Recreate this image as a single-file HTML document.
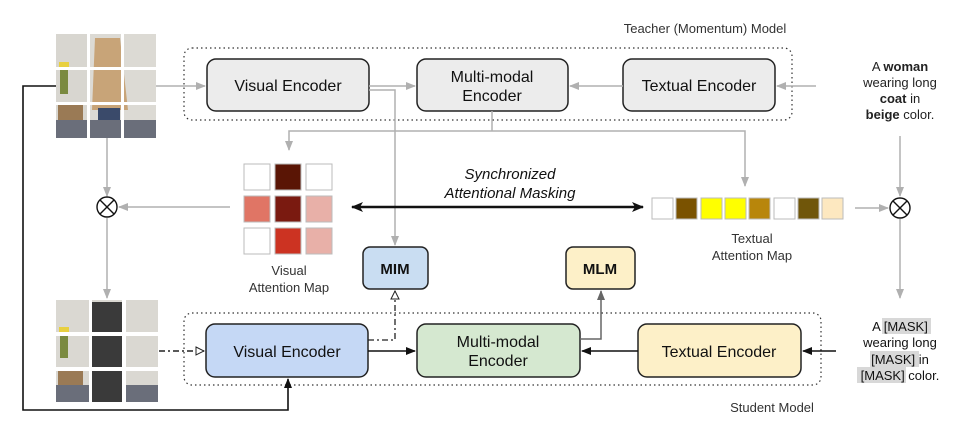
<!DOCTYPE html>
<html><head><meta charset="utf-8"><style>
body{margin:0;background:#fff;}
svg{display:block;font-family:"Liberation Sans","DejaVu Sans",sans-serif;}
</style></head><body>
<svg width="960" height="431" viewBox="0 0 960 431" xmlns="http://www.w3.org/2000/svg">
<defs>
<marker id="ga" markerWidth="10" markerHeight="10" refX="9" refY="5" orient="auto" markerUnits="userSpaceOnUse"><path d="M0,1 L10,5 L0,9 Z" fill="#b0b0b0"/></marker>
<marker id="ba" markerWidth="10" markerHeight="10" refX="9" refY="5" orient="auto" markerUnits="userSpaceOnUse"><path d="M0,1 L10,5 L0,9 Z" fill="#111"/></marker>
<marker id="da" markerWidth="10" markerHeight="10" refX="9" refY="5" orient="auto" markerUnits="userSpaceOnUse"><path d="M0,1 L10,5 L0,9 Z" fill="#666"/></marker>
<marker id="ha" markerWidth="10" markerHeight="10" refX="9" refY="5" orient="auto" markerUnits="userSpaceOnUse"><path d="M1,1 L9,5 L1,9 Z" fill="#fff" stroke="#222" stroke-width="1"/></marker>
<marker id="bb" markerWidth="12" markerHeight="12" refX="11" refY="6" orient="auto-start-reverse" markerUnits="userSpaceOnUse"><path d="M0,1 L12,6 L0,11 L3,6 Z" fill="#111"/></marker>
</defs>

<!-- top image -->
<g>
<rect x="56" y="34" width="100" height="104" fill="#dcdad4"/>
<rect x="56" y="34" width="32" height="104" fill="#d8d6d0"/>
<rect x="58" y="105" width="25" height="33" fill="#9a7a55"/>
<rect x="60" y="64" width="8" height="30" fill="#7a8a40"/>
<rect x="59" y="62" width="10" height="6" fill="#e8d040"/>
<path d="M95,38 L120,38 L128,110 L92,110 Z" fill="#c8a478"/>
<rect x="98" y="108" width="22" height="12" fill="#3a4a6a"/>
<rect x="56" y="120" width="100" height="18" fill="#6a6e7a"/>
<rect x="87" y="34" width="3" height="104" fill="#fff"/><rect x="121" y="34" width="3" height="104" fill="#fff"/>
<rect x="56" y="67" width="100" height="3" fill="#fff"/><rect x="56" y="102" width="100" height="3" fill="#fff"/>
</g>

<!-- masked image -->
<g>
<rect x="56" y="300" width="102" height="102" fill="#dad8d2"/>
<rect x="58" y="370" width="25" height="32" fill="#9a7a55"/>
<rect x="60" y="330" width="8" height="28" fill="#7a8a40"/>
<rect x="59" y="327" width="10" height="6" fill="#e8d040"/>
<rect x="56" y="385" width="102" height="17" fill="#6a6e7a"/>
<rect x="92" y="302" width="30" height="30" fill="#3a3a3a"/>
<rect x="92" y="336" width="30" height="31" fill="#3a3a3a"/>
<rect x="92" y="371" width="30" height="31" fill="#3a3a3a"/>
<rect x="89" y="300" width="3" height="102" fill="#fff"/><rect x="122" y="300" width="4" height="102" fill="#fff"/>
<rect x="56" y="332" width="102" height="4" fill="#fff"/><rect x="56" y="367" width="102" height="4" fill="#fff"/>
</g>

<!-- dotted boxes -->
<rect x="184" y="48" width="608" height="72" rx="8" fill="none" stroke="#333" stroke-width="1.2" stroke-dasharray="1.5,3"/>
<rect x="184" y="313" width="637" height="72" rx="8" fill="none" stroke="#333" stroke-width="1.2" stroke-dasharray="1.5,3"/>
<text x="705" y="33" font-size="13" fill="#333" text-anchor="middle">Teacher (Momentum) Model</text>
<text x="772" y="412" font-size="13" fill="#333" text-anchor="middle">Student Model</text>

<!-- teacher boxes -->
<rect x="207" y="59" width="162" height="52" rx="9" fill="#ececec" stroke="#222" stroke-width="1.5"/>
<text x="288" y="91" font-size="16" text-anchor="middle" fill="#111">Visual Encoder</text>
<rect x="417" y="59" width="151" height="52" rx="9" fill="#ececec" stroke="#222" stroke-width="1.5"/>
<text x="492" y="82" font-size="16" text-anchor="middle" fill="#111">Multi-modal</text>
<text x="492" y="101" font-size="16" text-anchor="middle" fill="#111">Encoder</text>
<rect x="623" y="59" width="152" height="52" rx="9" fill="#ececec" stroke="#222" stroke-width="1.5"/>
<text x="699" y="91" font-size="16" text-anchor="middle" fill="#111">Textual Encoder</text>

<!-- teacher arrows -->
<g stroke="#b0b0b0" stroke-width="1.5" fill="none">
<line x1="156" y1="86" x2="205" y2="86" marker-end="url(#ga)"/>
<line x1="369" y1="86" x2="415" y2="86" marker-end="url(#ga)"/>
<line x1="623" y1="86" x2="570" y2="86" marker-end="url(#ga)"/>
<line x1="816" y1="86" x2="777" y2="86" marker-end="url(#ga)"/>
<polyline points="369,90 395,90 395,245" marker-end="url(#ga)"/>
<line x1="492" y1="111" x2="492" y2="131"/>
<polyline points="492,131 289,131 289,150" marker-end="url(#ga)"/>
<polyline points="492,131 745,131 745,186" marker-end="url(#ga)"/>
<line x1="107" y1="138" x2="107" y2="196" marker-end="url(#ga)"/>
<line x1="230" y1="207" x2="119" y2="207" marker-end="url(#ga)"/>
<line x1="107" y1="218" x2="107" y2="298" marker-end="url(#ga)"/>
<line x1="855" y1="208" x2="888" y2="208" marker-end="url(#ga)"/>
<line x1="900" y1="136" x2="900" y2="196" marker-end="url(#ga)"/>
<line x1="900" y1="219" x2="900" y2="298" marker-end="url(#ga)"/>
</g>

<!-- otimes -->
<g stroke="#111" stroke-width="1.4" fill="#fff">
<circle cx="107" cy="207" r="10"/><line x1="100" y1="200" x2="114" y2="214"/><line x1="114" y1="200" x2="100" y2="214"/>
<circle cx="900" cy="208" r="10"/><line x1="893" y1="201" x2="907" y2="215"/><line x1="907" y1="201" x2="893" y2="215"/>
</g>

<!-- visual attention map -->
<g stroke="#bbb" stroke-width="1">
<rect x="244" y="164" width="26" height="26" fill="#fff"/>
<rect x="275" y="164" width="26" height="26" fill="#5a1505"/>
<rect x="306" y="164" width="26" height="26" fill="#fff"/>
<rect x="244" y="196" width="26" height="26" fill="#e07565"/>
<rect x="275" y="196" width="26" height="26" fill="#7a1a10"/>
<rect x="306" y="196" width="26" height="26" fill="#e8b0a8"/>
<rect x="244" y="228" width="26" height="26" fill="#fff"/>
<rect x="275" y="228" width="26" height="26" fill="#cc3322"/>
<rect x="306" y="228" width="26" height="26" fill="#e8b0a8"/>
</g>
<text x="289" y="275" font-size="13" fill="#333" text-anchor="middle">Visual</text>
<text x="289" y="292" font-size="13" fill="#333" text-anchor="middle">Attention Map</text>

<!-- sync arrow -->
<line x1="352" y1="207" x2="643" y2="207" stroke="#111" stroke-width="2.5" marker-start="url(#bb)" marker-end="url(#bb)"/>
<text x="510" y="179" font-size="15" font-style="italic" fill="#111" text-anchor="middle">Synchronized</text>
<text x="510" y="198" font-size="15" font-style="italic" fill="#111" text-anchor="middle">Attentional Masking</text>

<!-- textual attention map -->
<g stroke="#bbb" stroke-width="1">
<rect x="652" y="198" width="21" height="21" fill="#fff"/>
<rect x="676" y="198" width="21" height="21" fill="#7a5200"/>
<rect x="701" y="198" width="21" height="21" fill="#ffff00"/>
<rect x="725" y="198" width="21" height="21" fill="#ffff00"/>
<rect x="749" y="198" width="21" height="21" fill="#b8860b"/>
<rect x="774" y="198" width="21" height="21" fill="#fff"/>
<rect x="798" y="198" width="21" height="21" fill="#70560a"/>
<rect x="822" y="198" width="21" height="21" fill="#fde8c0"/>
</g>
<text x="752" y="243" font-size="13" fill="#333" text-anchor="middle">Textual</text>
<text x="752" y="260" font-size="13" fill="#333" text-anchor="middle">Attention Map</text>

<!-- right top text -->
<g font-size="13" fill="#222" text-anchor="middle">
<text x="900" y="71">A <tspan font-weight="bold">woman</tspan></text>
<text x="900" y="87">wearing long</text>
<text x="900" y="103"><tspan font-weight="bold">coat</tspan> in</text>
<text x="900" y="119"><tspan font-weight="bold">beige</tspan> color.</text>
</g>

<!-- right bottom text -->
<rect x="882" y="318" width="49" height="16" fill="#d8d8d8"/>
<rect x="870" y="351" width="49" height="16" fill="#d8d8d8"/>
<rect x="857" y="367" width="49" height="16" fill="#d8d8d8"/>
<g font-size="13" fill="#111" text-anchor="middle">
<text x="900" y="331">A [MASK]</text>
<text x="900" y="347">wearing long</text>
<text x="900" y="364">[MASK] in</text>
<text x="900" y="380">[MASK] color.</text>
</g>

<!-- MIM / MLM -->
<rect x="363" y="247" width="65" height="42" rx="7" fill="#c9ddf2" stroke="#222" stroke-width="1.5"/>
<text x="395" y="274" font-size="15" font-weight="bold" text-anchor="middle" fill="#111">MIM</text>
<rect x="566" y="247" width="69" height="42" rx="7" fill="#fdf0c8" stroke="#222" stroke-width="1.5"/>
<text x="600" y="274" font-size="15" font-weight="bold" text-anchor="middle" fill="#111">MLM</text>

<!-- student boxes -->
<rect x="206" y="324" width="162" height="53" rx="9" fill="#c5d8f5" stroke="#222" stroke-width="1.5"/>
<text x="287" y="357" font-size="16" text-anchor="middle" fill="#111">Visual Encoder</text>
<rect x="417" y="324" width="163" height="53" rx="9" fill="#d5e8d0" stroke="#222" stroke-width="1.5"/>
<text x="498" y="347" font-size="16" text-anchor="middle" fill="#111">Multi-modal</text>
<text x="498" y="366" font-size="16" text-anchor="middle" fill="#111">Encoder</text>
<rect x="638" y="324" width="163" height="53" rx="9" fill="#fdf0c8" stroke="#222" stroke-width="1.5"/>
<text x="719" y="357" font-size="16" text-anchor="middle" fill="#111">Textual Encoder</text>

<!-- student arrows -->
<g fill="none">
<line x1="159" y1="351" x2="204" y2="351" stroke="#222" stroke-width="1.5" stroke-dasharray="6,3,2,3" marker-end="url(#ha)"/>
<polyline points="368,340 395,340 395,291" stroke="#222" stroke-width="1.3" stroke-dasharray="6,3,2,3" marker-end="url(#ha)"/>
<line x1="368" y1="351" x2="415" y2="351" stroke="#111" stroke-width="1.5" marker-end="url(#ba)"/>
<line x1="638" y1="351" x2="582" y2="351" stroke="#111" stroke-width="1.5" marker-end="url(#ba)"/>
<line x1="836" y1="351" x2="803" y2="351" stroke="#111" stroke-width="1.5" marker-end="url(#ba)"/>
<polyline points="580,339 601,339 601,291" stroke="#666" stroke-width="1.5" marker-end="url(#da)"/>
<polyline points="56,86 23,86 23,410 288,410 288,379" stroke="#111" stroke-width="1.6" marker-end="url(#ba)"/>
</g>
</svg>
</body></html>
